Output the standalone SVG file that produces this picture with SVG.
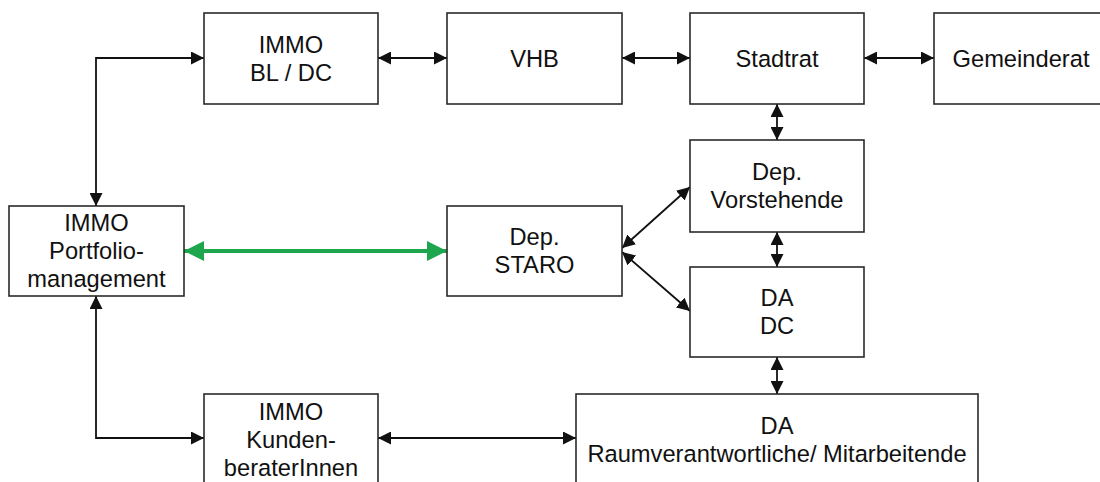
<svg xmlns="http://www.w3.org/2000/svg" width="1100" height="482" viewBox="0 0 1100 482">
<style>
.box{fill:#fff;stroke:#2a2a2a;stroke-width:1.6}
.t{font-family:"Liberation Sans",Arial,sans-serif;font-size:23.7px;fill:#111;text-anchor:middle}
.c{fill:none;stroke:#111;stroke-width:1.8}
.g{fill:none;stroke:#1ea64f;stroke-width:4}
</style>
<defs>
<marker id="ah" markerUnits="userSpaceOnUse" markerWidth="13" markerHeight="13" refX="13" refY="6.5" orient="auto-start-reverse">
<path d="M0,0 L13,6.5 L0,13 z" fill="#111"/>
</marker>
<marker id="gh" markerUnits="userSpaceOnUse" markerWidth="20" markerHeight="20" refX="20" refY="10" orient="auto-start-reverse">
<path d="M0,0 L20,10 L0,20 z" fill="#1ea64f"/>
</marker>
</defs>
<rect width="1100" height="482" fill="#fff"/>
<g id="connectors">
<polyline class="c" points="96,206 96,58 204,58" marker-start="url(#ah)" marker-end="url(#ah)"/>
<line class="c" x1="378" y1="58" x2="447" y2="58" marker-start="url(#ah)" marker-end="url(#ah)"/>
<line class="c" x1="622" y1="58" x2="690" y2="58" marker-start="url(#ah)" marker-end="url(#ah)"/>
<line class="c" x1="864" y1="58" x2="934" y2="58" marker-start="url(#ah)" marker-end="url(#ah)"/>
<line class="c" x1="777" y1="104" x2="777" y2="140" marker-start="url(#ah)" marker-end="url(#ah)"/>
<line class="c" x1="777" y1="232" x2="777" y2="267" marker-start="url(#ah)" marker-end="url(#ah)"/>
<line class="c" x1="777" y1="357" x2="777" y2="394" marker-start="url(#ah)" marker-end="url(#ah)"/>
<line class="c" x1="622" y1="248" x2="690" y2="187" marker-start="url(#ah)" marker-end="url(#ah)"/>
<line class="c" x1="622" y1="252" x2="690" y2="311" marker-start="url(#ah)" marker-end="url(#ah)"/>
<polyline class="c" points="96,296 96,438 204,438" marker-start="url(#ah)" marker-end="url(#ah)"/>
<line class="c" x1="378" y1="438" x2="576" y2="438" marker-start="url(#ah)" marker-end="url(#ah)"/>
<line class="g" x1="184" y1="251" x2="447" y2="251" marker-start="url(#gh)" marker-end="url(#gh)"/>
</g>
<g id="immo-bldc"><rect class="box" x="204" y="13" width="174" height="91"/><text class="t" x="291" y="52.5">IMMO</text><text class="t" x="291" y="80.5">BL / DC</text></g>
<g id="vhb"><rect class="box" x="447" y="13" width="175" height="91"/><text class="t" x="534.5" y="66.5">VHB</text></g>
<g id="stadtrat"><rect class="box" x="690" y="13" width="174" height="91"/><text class="t" x="777" y="66.5">Stadtrat</text></g>
<g id="gemeinderat"><rect class="box" x="934" y="13" width="174" height="91"/><text class="t" x="1021" y="66.5">Gemeinderat</text></g>
<g id="dep-vorstehende"><rect class="box" x="690" y="140" width="174" height="92"/><text class="t" x="777" y="180">Dep.</text><text class="t" x="777" y="208">Vorstehende</text></g>
<g id="immo-portfolio"><rect class="box" x="9" y="206" width="175" height="90"/><text class="t" x="96.5" y="231">IMMO</text><text class="t" x="96.5" y="259">Portfolio-</text><text class="t" x="96.5" y="287">management</text></g>
<g id="dep-staro"><rect class="box" x="447" y="206" width="175" height="90"/><text class="t" x="534.5" y="245">Dep.</text><text class="t" x="534.5" y="273">STARO</text></g>
<g id="da-dc"><rect class="box" x="690" y="267" width="174" height="90"/><text class="t" x="777" y="306">DA</text><text class="t" x="777" y="334">DC</text></g>
<g id="immo-kunden"><rect class="box" x="204" y="394" width="174" height="92"/><text class="t" x="291" y="420">IMMO</text><text class="t" x="291" y="448">Kunden-</text><text class="t" x="291" y="476">beraterInnen</text></g>
<g id="da-raum"><rect class="box" x="576" y="394" width="402" height="92"/><text class="t" x="777" y="434">DA</text><text class="t" x="777" y="462">Raumverantwortliche/ Mitarbeitende</text></g>
</svg>
